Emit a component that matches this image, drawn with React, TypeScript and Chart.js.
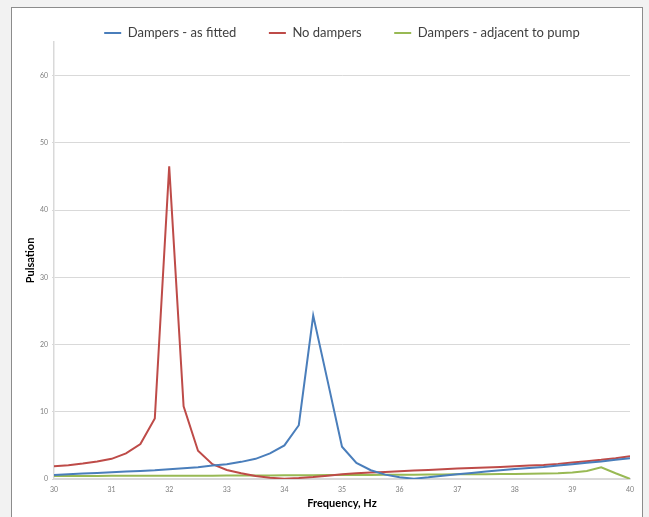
import React, { useEffect, useRef } from "react";
import { Chart, registerables } from "chart.js";

Chart.register(...registerables);

const frequencies = [
  30, 30.25, 30.5, 30.75, 31, 31.25, 31.5, 31.75, 32, 32.25, 32.5, 32.75, 33, 33.25, 33.5, 33.75,
  34, 34.25, 34.5, 34.75, 35, 35.25, 35.5, 35.75, 36, 36.25, 36.5, 36.75, 37, 37.25, 37.5, 37.75,
  38, 38.25, 38.5, 38.75, 39, 39.25, 39.5, 39.75, 40,
];

const dampersAsFitted = [
  0.6, 0.7, 0.8, 0.9, 1.0, 1.1, 1.2, 1.3, 1.45, 1.6, 1.75, 2.0, 2.2, 2.55, 3.0, 3.8,
  5.0, 8.0, 24.3, 14.6, 4.8, 2.4, 1.3, 0.65, 0.25, 0.05, 0.25, 0.5, 0.7, 0.9, 1.1, 1.3,
  1.5, 1.65, 1.8, 2.0, 2.2, 2.4, 2.6, 2.85, 3.1,
];

const noDampers = [
  1.9, 2.05, 2.3, 2.6, 3.0, 3.8, 5.2, 9.0, 46.5, 10.8, 4.2, 2.2, 1.35, 0.85, 0.45, 0.2,
  0.05, 0.15, 0.3, 0.5, 0.7, 0.85, 0.95, 1.05, 1.15, 1.25, 1.35, 1.45, 1.55, 1.62, 1.7, 1.8,
  1.9, 2.0, 2.1, 2.25, 2.45, 2.65, 2.85, 3.1, 3.4,
];

const dampersAdjacentToPump = [
  0.45, 0.45, 0.46, 0.46, 0.47, 0.47, 0.48, 0.48, 0.49, 0.49, 0.5, 0.5, 0.51, 0.52, 0.52, 0.53,
  0.55, 0.56, 0.57, 0.58, 0.59, 0.6, 0.61, 0.62, 0.64, 0.65, 0.66, 0.68, 0.69, 0.7, 0.72, 0.73,
  0.75, 0.78, 0.81, 0.85, 0.95, 1.2, 1.75, 0.85, 0.02,
];

const seriesNames = ["Dampers - as fitted", "No dampers", "Dampers - adjacent to pump"];
const seriesColors = ["#4a7ebb", "#be4b48", "#98b954"];
const xTickValues = [30, 31, 32, 33, 34, 35, 36, 37, 38, 39, 40];
const yTickValues = [0, 10, 20, 30, 40, 50, 60];

export default function App() {
  const canvasRef = useRef<HTMLCanvasElement | null>(null);

  useEffect(() => {
    const canvas = canvasRef.current;
    if (!canvas) return;
    const allSeries = [dampersAsFitted, noDampers, dampersAdjacentToPump];
    const datasets = allSeries.map((vals, i) => ({
      label: seriesNames[i],
      data: frequencies.map((f, j) => ({ x: f, y: vals[j] })),
      borderColor: seriesColors[i],
      backgroundColor: seriesColors[i],
      borderWidth: 2,
      pointRadius: 0,
      pointStyle: "line" as const,
      tension: 0,
      fill: false,
    }));

    const legendHeight = {
      id: "legendHeight",
      beforeInit(chart: any) {
        const lg = chart.legend;
        if (!lg) return;
        const orig = lg.fit;
        lg.fit = function () {
          orig.call(this);
          this.height = 48;
        };
      },
    };

    const chart = new Chart(canvas, {
      type: "line",
      data: { datasets },
      plugins: [legendHeight],
      options: {
        animation: false,
        responsive: false,
        maintainAspectRatio: false,
        layout: { padding: { left: 0, right: 19, top: -6, bottom: 0 } },
        plugins: {
          tooltip: { enabled: false },
          legend: {
            position: "top",
            fullSize: false,
            labels: {
              usePointStyle: true,
              pointStyleWidth: 17,
              boxHeight: 12,
              padding: 32.5,
              color: "#404040",
              font: { family: "Lato", size: 13 },
            },
          },
        },
        scales: {
          x: {
            type: "linear",
            min: 30,
            max: 40,
            afterFit(scale: any) {
              scale.height = 38;
            },
            afterBuildTicks(scale: any) {
              scale.ticks = xTickValues.map((v) => ({ value: v }));
            },
            ticks: {
              color: "#7f7f7f",
              font: { family: "Lato", size: 7 },
              padding: 4,
              maxRotation: 0,
              autoSkip: false,
            },
            grid: { display: false, drawTicks: true, tickLength: 3 },
            border: { display: true, color: "#d9d9d9", width: 1.5 },
            title: {
              display: true,
              text: "Frequency, Hz",
              color: "#000000",
              font: { family: "Lato", size: 11, weight: "bold" },
              padding: { top: 0, bottom: 7 },
            },
          },
          y: {
            type: "linear",
            min: 0,
            max: 65,
            afterFit(scale: any) {
              scale.width = 54;
            },
            afterBuildTicks(scale: any) {
              scale.ticks = yTickValues.map((v) => ({ value: v }));
            },
            ticks: {
              color: "#7f7f7f",
              font: { family: "Lato", size: 7 },
              padding: 4,
              autoSkip: false,
            },
            grid: { color: "#d9d9d9", lineWidth: 1, drawTicks: true, tickLength: 2 },
            border: { display: true, color: "#d9d9d9", width: 1.5 },
            title: {
              display: true,
              text: "Pulsation",
              color: "#000000",
              font: { family: "Lato", size: 11, weight: "bold" },
              padding: { top: 24, bottom: 0 },
            },
          },
        },
      },
    });
    return () => chart.destroy();
  }, []);

  return (
    <div style={{ position: "fixed", left: 0, top: 0, width: 649, height: 517, background: "#f2f2f2", overflow: "hidden" }}>
      <div
        style={{
          position: "absolute",
          left: 11,
          top: 7,
          width: 630,
          height: 540,
          background: "#ffffff",
          border: "1px solid #8c8c8c",
        }}
      />
      <canvas ref={canvasRef} width={649} height={517} style={{ position: "absolute", left: 0, top: 0, width: 649, height: 517 }} />
    </div>
  );
}
